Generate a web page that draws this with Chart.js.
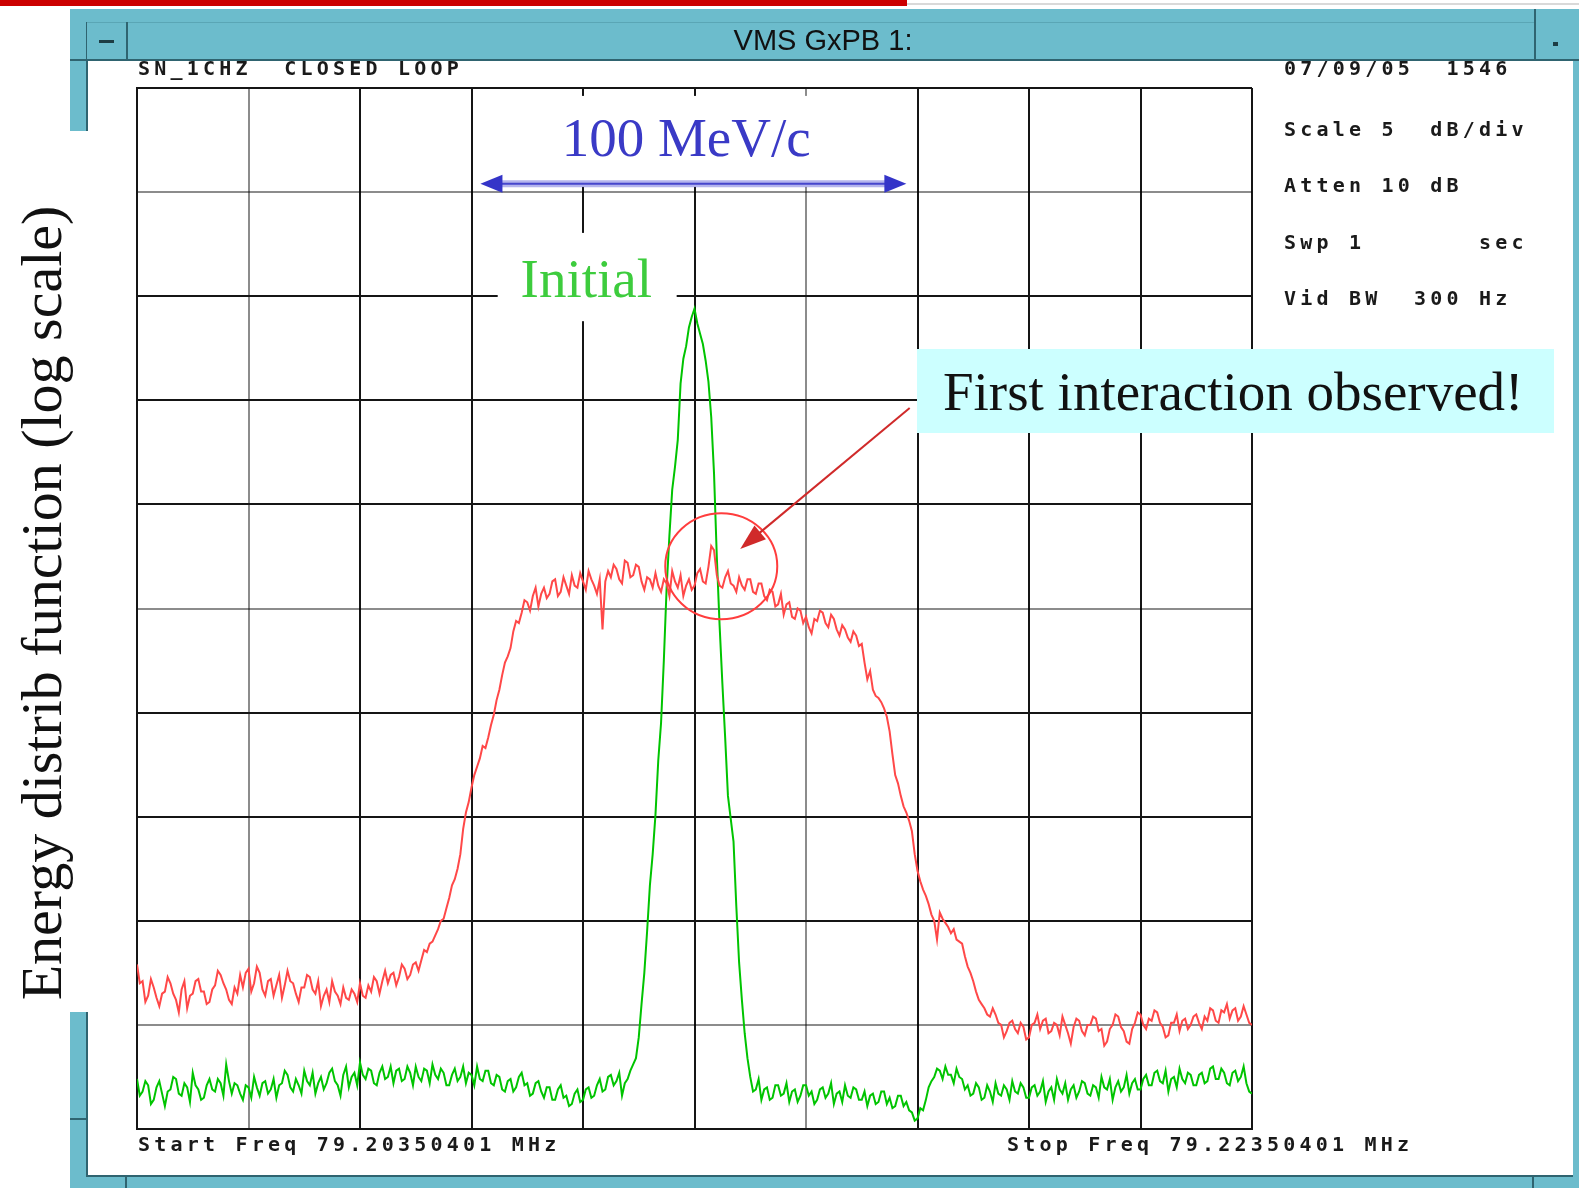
<!DOCTYPE html>
<html>
<head>
<meta charset="utf-8">
<title>VMS GxPB 1:</title>
<script src="https://cdn.jsdelivr.net/npm/chart.js@4.4.0/dist/chart.umd.min.js"></script>
<style>
  html, body { margin: 0; padding: 0; background: #fff; }
  #wrap { width: 1579px; height: 1188px; }
</style>
</head>
<body>
<div id="wrap"><canvas id="spectrum" width="1579" height="1188"></canvas></div>
<script>
// sweep 79.20350401 -> 79.22350401 MHz, offsets in kHz, 5 dB/div, top of screen = 0 dB
const startFreqLabel = "Start Freq 79.20350401 MHz";
const stopFreqLabel = "Stop Freq 79.22350401 MHz";
const headerLeft = "SN_1CHZ  CLOSED LOOP";
const headerRight = "07/09/05  1546";
const settingsLines = ["Scale 5  dB/div", "Atten 10 dB", "Swp 1       sec", "Vid BW  300 Hz"];

const spanKHz = 20;
const sweepStepKHz = 0.05;
const dbTop = 0;
const dbBottom = -50;

// trace after closing the loop (red), one row per kHz
const closedLoopDb = [
  -42.1, -43.0, -42.9, -43.9, -43.6, -42.8, -43.2, -43.7, -44.1, -43.5, -43.4, -42.7, -43.0, -43.5, -43.8, -44.4, -43.3, -42.9, -44.2, -43.6,
  -43.5, -42.9, -42.8, -43.4, -43.4, -44.0, -43.9, -43.3, -43.1, -42.4, -42.6, -43.0, -43.3, -43.8, -44.0, -43.2, -43.5, -42.6, -43.2, -42.5,
  -42.3, -43.4, -43.0, -42.2, -42.5, -43.3, -43.6, -42.9, -42.8, -43.6, -43.1, -42.6, -43.7, -43.1, -42.4, -42.9, -43.0, -43.5, -43.9, -43.2,
  -43.2, -42.6, -42.7, -43.3, -43.5, -42.9, -44.1, -43.6, -43.3, -43.9, -42.9, -43.4, -43.6, -44.0, -43.2, -43.7, -43.8, -43.3, -43.5, -43.9,
  -43.0, -43.6, -43.7, -43.1, -43.4, -42.7, -42.9, -43.5, -42.9, -42.4, -43.0, -42.6, -42.5, -43.1, -42.7, -42.1, -42.3, -42.8, -42.6, -42.1,
  -42.0, -42.4, -41.9, -41.4, -41.5, -41.1, -41.0, -40.7, -40.4, -40.0, -39.9, -39.4, -38.9, -38.3, -38.0, -37.5, -36.8, -35.6, -34.8, -34.3,
  -33.6, -33.0, -32.6, -32.2, -31.6, -31.7, -31.2, -30.6, -30.1, -29.4, -28.9, -28.2, -27.6, -27.3, -26.9, -26.1, -25.6, -25.7, -25.2, -24.6,
  -24.7, -25.1, -24.4, -24.0, -24.9, -24.3, -24.0, -24.5, -24.3, -23.7, -23.6, -24.4, -24.2, -23.5, -23.9, -24.3, -23.4, -23.9, -24.0, -23.3,
  -23.7, -24.1, -23.2, -23.6, -23.9, -24.3, -23.6, -26.0, -23.7, -23.2, -23.5, -22.9, -23.1, -23.6, -23.8, -22.7, -22.8, -23.5, -23.4, -22.9,
  -23.0, -23.7, -24.1, -23.5, -23.6, -24.0, -23.3, -23.9, -24.2, -23.6, -23.8, -24.4, -23.2, -23.7, -24.0, -23.4, -24.4, -23.9, -23.6, -24.1,
  -23.9, -23.3, -23.1, -23.7, -23.8, -23.0, -22.0, -22.2, -23.4, -23.9, -24.0, -23.5, -23.2, -23.8, -23.9, -24.2, -23.5, -23.9, -24.1, -23.6,
  -23.6, -24.2, -24.3, -23.8, -23.8, -24.4, -24.6, -24.1, -24.2, -24.9, -24.8, -24.3, -25.3, -24.8, -24.7, -25.4, -25.5, -25.0, -25.1, -25.7,
  -25.4, -25.9, -26.2, -25.5, -25.6, -25.1, -25.2, -25.7, -25.9, -25.3, -25.5, -26.0, -26.3, -25.8, -26.0, -26.4, -26.6, -26.1, -26.3, -26.8,
  -26.7, -27.6, -28.4, -28.0, -28.9, -29.2, -29.3, -29.5, -29.8, -30.2, -30.9, -32.0, -33.0, -33.4, -34.0, -34.5, -34.8, -35.2, -35.7, -36.8,
  -37.6, -38.1, -38.5, -38.8, -39.2, -39.7, -40.0, -40.9, -39.6, -39.9, -40.1, -40.3, -40.6, -40.4, -40.9, -41.0, -41.1, -41.7, -42.2, -42.5,
  -42.9, -43.4, -43.8, -44.0, -44.2, -44.5, -44.6, -44.2, -44.5, -44.9, -45.0, -45.6, -45.3, -44.9, -44.8, -45.2, -45.4, -44.9, -45.1, -45.7,
  -45.6, -45.0, -44.9, -44.5, -45.2, -44.8, -44.7, -45.4, -45.3, -44.9, -45.0, -45.5, -44.6, -45.0, -45.4, -45.9, -45.1, -44.7, -44.8, -45.3,
  -45.5, -45.0, -45.0, -44.6, -44.7, -45.3, -45.2, -46.0, -45.8, -45.2, -45.0, -44.5, -44.6, -45.1, -45.3, -45.8, -45.9, -45.2, -44.9, -44.4,
  -44.5, -45.0, -45.2, -44.7, -44.8, -44.3, -44.4, -44.9, -45.1, -45.6, -45.5, -44.9, -44.9, -44.5, -45.3, -44.8, -44.7, -45.2, -45.0, -44.6,
  -44.5, -44.9, -45.2, -44.6, -44.8, -44.2, -44.3, -44.8, -44.9, -44.3, -44.4, -44.0, -44.7, -44.3, -44.2, -44.8, -44.6, -44.1, -44.5, -44.9,
  -45.0
];

// initial beam (green), one row per kHz
const initialDb = [
  -47.6, -48.4, -48.2, -47.7, -47.9, -48.8, -48.6, -48.0, -47.7, -48.3, -48.9, -48.2, -48.1, -47.5, -47.6, -48.3, -48.4, -47.8, -48.0, -48.7,
  -47.3, -47.9, -48.1, -48.6, -48.5, -47.9, -47.6, -48.1, -48.2, -47.6, -47.8, -48.4, -46.9, -47.7, -48.3, -47.8, -47.9, -48.3, -48.6, -47.9,
  -48.0, -48.5, -47.5, -48.0, -48.4, -47.8, -47.7, -48.3, -48.1, -47.6, -48.5, -47.9, -47.8, -47.2, -47.4, -48.0, -48.2, -47.6, -47.9, -48.3,
  -47.2, -47.7, -47.9, -47.3, -48.3, -47.8, -47.5, -48.1, -47.8, -47.3, -47.1, -47.7, -47.9, -48.4, -47.4, -47.0, -48.0, -47.5, -47.3, -47.9,
  -46.8, -47.4, -47.6, -47.1, -47.2, -47.8, -47.9, -47.3, -47.0, -47.6, -47.5, -47.0, -47.8, -47.2, -47.1, -47.7, -47.6, -47.0, -47.3, -47.9,
  -47.0, -47.5, -47.7, -47.1, -47.2, -47.8, -46.9, -47.4, -47.6, -47.1, -47.3, -47.9, -47.9, -47.4, -47.1, -47.7, -47.5, -47.0, -47.8, -47.3,
  -47.4, -47.9, -47.0, -47.6, -47.7, -47.2, -47.2, -47.8, -47.9, -47.4, -47.5, -48.1, -48.2, -47.7, -47.6, -48.2, -48.0, -47.5, -47.3, -47.9,
  -47.8, -48.4, -48.3, -47.8, -47.7, -48.2, -48.5, -48.0, -48.0, -48.6, -48.6, -48.1, -47.9, -48.5, -48.4, -48.9, -48.8, -48.3, -48.1, -48.7,
  -48.6, -48.1, -48.0, -48.5, -48.4, -47.9, -47.6, -48.2, -48.1, -47.5, -47.4, -47.9, -47.7, -47.3, -48.4, -47.8, -47.6, -47.2, -46.9, -46.6,
  -45.6, -44.0, -42.5, -40.5, -38.3, -36.8, -34.9, -32.3, -30.5, -27.5, -24.0, -21.5, -19.3, -18.2, -16.9, -14.2, -13.0, -12.4, -11.5, -11.0,
  -10.6, -11.3, -11.8, -12.3, -13.1, -14.1, -15.8, -18.5, -22.5, -25.8, -28.6, -31.2, -34.0, -35.1, -36.2, -39.3, -42.0, -43.8, -45.4, -46.6,
  -47.5, -48.2, -48.1, -47.6, -48.6, -48.1, -48.0, -48.6, -48.5, -47.9, -47.9, -48.4, -48.3, -47.8, -48.7, -48.2, -48.1, -48.7, -48.4, -47.9,
  -47.9, -48.4, -48.2, -48.8, -48.6, -48.1, -48.0, -48.5, -48.3, -47.8, -48.8, -48.3, -48.2, -48.7, -47.9, -48.4, -48.5, -48.0, -48.1, -48.6,
  -48.6, -48.2, -48.9, -48.4, -48.3, -48.8, -48.7, -48.2, -48.2, -48.8, -48.5, -49.0, -48.9, -48.4, -48.4, -48.9, -48.7, -49.1, -49.2, -49.6,
  -49.5, -49.0, -49.1, -48.6, -48.0, -47.7, -47.5, -47.1, -47.2, -47.6, -47.0, -47.4, -47.4, -47.8, -47.1, -47.5, -47.6, -48.1, -47.9, -48.4,
  -48.3, -47.8, -48.0, -48.6, -48.5, -47.9, -48.2, -48.7, -47.8, -48.3, -48.4, -47.9, -48.1, -48.6, -47.7, -48.2, -48.3, -47.8, -48.0, -48.5,
  -48.5, -48.0, -47.9, -48.4, -48.2, -47.7, -48.7, -48.2, -48.0, -48.6, -47.6, -48.1, -48.3, -47.8, -48.6, -48.1, -47.9, -48.5, -48.2, -47.7,
  -47.8, -48.3, -48.4, -47.9, -48.0, -48.5, -47.5, -48.0, -48.1, -47.6, -48.6, -48.0, -47.7, -48.2, -48.0, -47.4, -48.3, -47.8, -47.6, -48.1,
  -48.1, -47.6, -47.4, -47.9, -47.9, -47.3, -47.2, -47.7, -47.8, -47.2, -48.2, -47.6, -47.5, -48.0, -47.1, -47.6, -47.8, -47.3, -47.4, -47.9,
  -47.9, -47.4, -47.3, -47.8, -47.7, -47.1, -47.0, -47.6, -47.6, -47.1, -47.3, -47.8, -47.9, -47.3, -47.2, -47.7, -47.5, -47.0, -47.8, -48.2,
  -48.3
];

// annotation anchors, in kHz / dB
const spanArrow = { from: 6.16, to: 13.8, db: -4.6 };
const interactionMark = { kHz: 10.48, db: -22.97 };
const pointerStart = { kHz: 13.86, db: -15.37 };
const pointerEnd = { kHz: 10.82, db: -22.14 };

const toPoints = vals => vals.map((v, i) => ({ x: +(i * sweepStepKHz).toFixed(2), y: v }));

const teal = "#6cbccc";
const tealDark = "#2f6470";
const lineDark = "#151515";
const lineGrey = "rgba(0,0,0,0.45)";
const serif = '"Liberation Serif", "Times New Roman", serif';

// analyzer text is a fixed-pitch pixel font
function monoText(ctx, str, x, y) {
  ctx.save();
  ctx.font = 'bold 20px "DejaVu Sans Mono", monospace';
  ctx.fillStyle = "#1a1a1a";
  ctx.textBaseline = "middle";
  ctx.textAlign = "left";
  for (let i = 0; i < str.length; i++) {
    ctx.fillText(str[i], x + i * 16.25, y);
  }
  ctx.restore();
}

function arrowHead(ctx, x1, y1, x2, y2, len, half) {
  const a = Math.atan2(y2 - y1, x2 - x1);
  ctx.beginPath();
  ctx.moveTo(x2, y2);
  ctx.lineTo(x2 - len * Math.cos(a) + half * Math.sin(a), y2 - len * Math.sin(a) - half * Math.cos(a));
  ctx.lineTo(x2 - len * Math.cos(a) - half * Math.sin(a), y2 - len * Math.sin(a) + half * Math.cos(a));
  ctx.closePath();
  ctx.fill();
}

const analyzerWindow = {
  id: "analyzerWindow",
  beforeDraw(chart) {
    const ctx = chart.ctx;
    ctx.save();
    ctx.fillStyle = "#fff";
    ctx.fillRect(0, 0, chart.width, chart.height);

    // slide bar on top
    ctx.fillStyle = "#cc0000";
    ctx.fillRect(0, 0, 907, 6);
    ctx.fillStyle = "#d9d9d9";
    ctx.fillRect(907, 3, 672, 2);

    // title bar
    ctx.fillStyle = teal;
    ctx.fillRect(70, 9, 1509, 52);
    ctx.fillStyle = "#5aa6b5";
    ctx.fillRect(86, 22, 1450, 1);
    ctx.fillStyle = tealDark;
    ctx.fillRect(70, 59, 1509, 2);
    ctx.fillRect(126, 22, 2, 37);
    ctx.fillRect(1534, 9, 2, 50);
    ctx.fillRect(86, 22, 1, 37);
    ctx.fillStyle = "#1d3d44";
    ctx.fillRect(99, 40, 15, 3);
    ctx.fillRect(1553, 42, 5, 4);

    ctx.fillStyle = "#111";
    ctx.font = '29px "Liberation Sans", Arial, sans-serif';
    ctx.textAlign = "center";
    ctx.textBaseline = "middle";
    ctx.fillText("VMS GxPB 1:", 823, 42);

    // window frame
    ctx.fillStyle = teal;
    ctx.fillRect(70, 61, 17, 70);
    ctx.fillRect(70, 1012, 17, 176);
    ctx.fillRect(70, 1176, 1509, 12);
    ctx.fillRect(1573, 61, 6, 1127);
    ctx.fillStyle = tealDark;
    ctx.fillRect(86, 61, 2, 70);
    ctx.fillRect(86, 1012, 2, 164);
    ctx.fillRect(86, 1175, 1487, 2);
    ctx.fillRect(70, 1118, 17, 2);
    ctx.fillRect(125, 1177, 2, 11);
    ctx.fillRect(1532, 1177, 2, 11);
    ctx.restore();
  },
  afterDraw(chart) {
    const ctx = chart.ctx;
    const x = chart.scales.x;
    const y = chart.scales.y;
    const px = v => x.getPixelForValue(v);
    const py = v => y.getPixelForValue(v);
    ctx.save();

    // label backgrounds cut the graticule
    ctx.fillStyle = "#fff";
    ctx.fillRect(px(7.0), py(-0.38), px(12.55) - px(7.0), py(-4.75) - py(-0.38));
    ctx.fillRect(px(6.47), py(-6.96), px(9.68) - px(6.47), py(-11.2) - py(-6.96));

    // 100 MeV/c span
    const ay = py(spanArrow.db);
    const ax1 = px(spanArrow.from);
    const ax2 = px(spanArrow.to);
    ctx.strokeStyle = "rgba(90,90,215,0.45)";
    ctx.lineWidth = 7;
    ctx.beginPath();
    ctx.moveTo(ax1 + 10, ay);
    ctx.lineTo(ax2 - 10, ay);
    ctx.stroke();
    ctx.strokeStyle = "#4646cc";
    ctx.lineWidth = 2;
    ctx.beginPath();
    ctx.moveTo(ax1 + 10, ay);
    ctx.lineTo(ax2 - 10, ay);
    ctx.stroke();
    ctx.fillStyle = "#3434c8";
    arrowHead(ctx, ax2, ay, ax1, ay, 22, 9);
    arrowHead(ctx, ax1, ay, ax2, ay, 22, 9);

    ctx.font = "55px " + serif;
    ctx.textBaseline = "alphabetic";
    ctx.textAlign = "center";
    ctx.fillStyle = "#3a3ac6";
    ctx.fillText("100 MeV/c", px(9.85), py(-3.25));

    ctx.textAlign = "left";
    ctx.fillStyle = "#3dcc3d";
    ctx.fillText("Initial", px(6.88), py(-10.05));

    // interaction marker
    ctx.strokeStyle = "#ff3d3d";
    ctx.lineWidth = 2;
    ctx.beginPath();
    ctx.ellipse(px(interactionMark.kHz), py(interactionMark.db), 56, 53, 0, 0, Math.PI * 2);
    ctx.stroke();

    const sx = px(pointerStart.kHz), sy = py(pointerStart.db);
    const ex = px(pointerEnd.kHz), ey = py(pointerEnd.db);
    ctx.strokeStyle = "#d02a2a";
    ctx.lineWidth = 2;
    ctx.beginPath();
    ctx.moveTo(sx, sy);
    ctx.lineTo(ex + (sx - ex) * 0.1, ey + (sy - ey) * 0.1);
    ctx.stroke();
    ctx.fillStyle = "#d02a2a";
    arrowHead(ctx, sx, sy, ex, ey, 26, 9);

    // callout
    ctx.fillStyle = "#ccffff";
    ctx.fillRect(917, 349, 637, 84);
    ctx.fillStyle = "#111";
    ctx.font = "55px " + serif;
    ctx.fillText("First interaction observed!", 943, 410);

    // vertical axis title
    ctx.save();
    ctx.translate(61, 603);
    ctx.rotate(-Math.PI / 2);
    ctx.textAlign = "center";
    ctx.textBaseline = "alphabetic";
    ctx.fillStyle = "#111";
    ctx.font = "58px " + serif;
    ctx.fillText("Energy distrib function (log scale)", 0, 0);
    ctx.restore();

    // analyzer annotations
    monoText(ctx, headerLeft, 138, 70);
    monoText(ctx, headerRight, 1284, 70);
    const rows = [131, 187, 244, 300];
    settingsLines.forEach((s, i) => monoText(ctx, s, 1284, rows[i]));
    monoText(ctx, startFreqLabel, 138, 1146);
    monoText(ctx, stopFreqLabel, 1007, 1146);

    ctx.restore();
  }
};

const chart = new Chart(document.getElementById("spectrum"), {
  type: "line",
  data: {
    datasets: [
      { label: "Closed loop", data: toPoints(closedLoopDb), borderColor: "#ff4848", borderWidth: 2, pointRadius: 0 },
      { label: "Initial", data: toPoints(initialDb), borderColor: "#00c400", borderWidth: 2, pointRadius: 0 }
    ]
  },
  options: {
    responsive: false,
    animation: false,
    devicePixelRatio: 1,
    events: [],
    layout: { padding: { left: 137, right: 327, top: 88, bottom: 59 } },
    plugins: { legend: { display: false }, tooltip: { enabled: false } },
    elements: { line: { tension: 0 } },
    scales: {
      x: {
        type: "linear",
        min: 0,
        max: spanKHz,
        ticks: { display: false, stepSize: 2 },
        grid: {
          drawTicks: false,
          lineWidth: 2,
          color: c => ([1, 6].includes(c.index) ? lineGrey : lineDark)
        },
        border: { display: true, color: lineDark, width: 2 },
        afterFit(s) { s.height = 0; }
      },
      y: {
        type: "linear",
        min: dbBottom,
        max: dbTop,
        ticks: { display: false, stepSize: 5 },
        grid: {
          drawTicks: false,
          lineWidth: 2,
          color: c => ([1, 5, 9].includes(c.index) ? lineGrey : lineDark)
        },
        border: { display: true, color: lineDark, width: 2 },
        afterFit(s) { s.width = 0; }
      }
    }
  },
  plugins: [analyzerWindow]
});
</script>
</body>
</html>
